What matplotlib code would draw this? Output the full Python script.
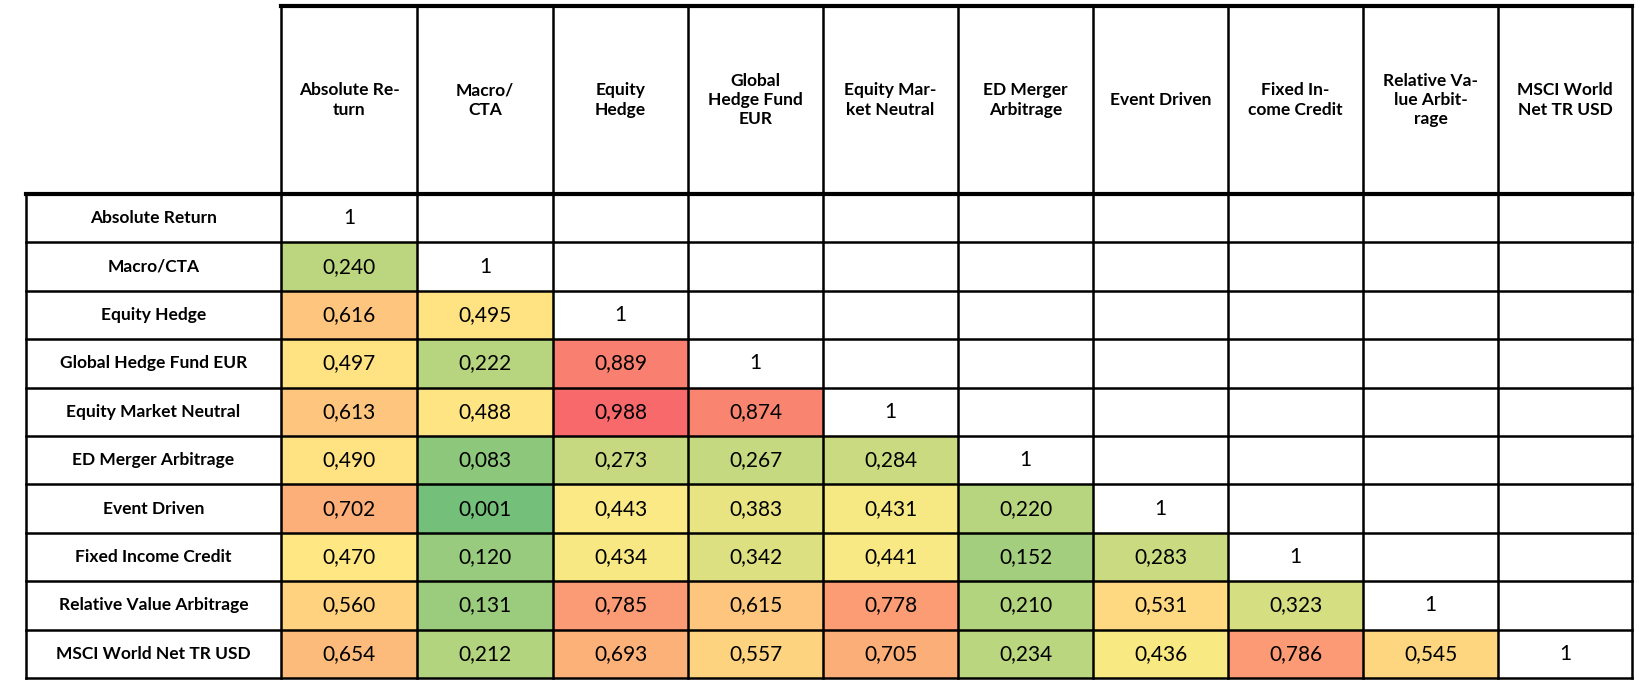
import matplotlib
matplotlib.use("Agg")
import matplotlib.pyplot as plt
from matplotlib.colors import LinearSegmentedColormap, TwoSlopeNorm

col_labels = ["Absolute Re-\nturn", "Macro/\nCTA", "Equity\nHedge", "Global\nHedge Fund\nEUR",
              "Equity Mar-\nket Neutral", "ED Merger\nArbitrage", "Event Driven", "Fixed In-\ncome Credit",
              "Relative Va-\nlue Arbit-\nrage", "MSCI World\nNet TR USD"]
row_labels = ["Absolute Return", "Macro/CTA", "Equity Hedge", "Global Hedge Fund EUR",
              "Equity Market Neutral", "ED Merger Arbitrage", "Event Driven", "Fixed Income Credit",
              "Relative Value Arbitrage", "MSCI World Net TR USD"]
corr = [
    [],
    [0.240],
    [0.616, 0.495],
    [0.497, 0.222, 0.889],
    [0.613, 0.488, 0.988, 0.874],
    [0.490, 0.083, 0.273, 0.267, 0.284],
    [0.702, 0.001, 0.443, 0.383, 0.431, 0.220],
    [0.470, 0.120, 0.434, 0.342, 0.441, 0.152, 0.283],
    [0.560, 0.131, 0.785, 0.615, 0.778, 0.210, 0.531, 0.323],
    [0.654, 0.212, 0.693, 0.557, 0.705, 0.234, 0.436, 0.786, 0.545],
]

cmap = LinearSegmentedColormap.from_list("gyr", ["#74C07A", "#FFEB84", "#F8696B"])
norm = TwoSlopeNorm(vmin=0.001, vcenter=0.46, vmax=0.988)

fig = plt.figure(figsize=(16.44, 6.91), dpi=100)
ax = fig.add_axes([0, 0, 1, 1])
ax.set_xlim(0, 1644)
ax.set_ylim(691, 0)
ax.axis("off")

xs = [281, 417, 553, 688, 823, 958, 1093, 1228, 1363, 1498, 1632]
x0 = 26
ytop, yh = 6, 194
rh = (678 - yh) / 10
font = "Lato"

for i, lab in enumerate(row_labels):
    y = yh + i * rh
    ax.text((x0 + xs[0]) / 2, y + rh / 2, lab, ha="center", va="center",
            fontsize=12.5, fontweight="bold", family=font)
    for j in range(10):
        if j < len(corr[i]):
            v = corr[i][j]
            ax.add_patch(plt.Rectangle((xs[j], y), xs[j + 1] - xs[j], rh,
                                       facecolor=cmap(norm(v)), edgecolor="none"))
            ax.text((xs[j] + xs[j + 1]) / 2, y + rh / 2, f"{v:.3f}".replace(".", ","),
                    ha="center", va="center", fontsize=15, family=font)
        elif j == i:
            ax.text((xs[j] + xs[j + 1]) / 2, y + rh / 2, "1",
                    ha="center", va="center", fontsize=15, family=font)

for j, lab in enumerate(col_labels):
    ax.text((xs[j] + xs[j + 1]) / 2, (ytop + yh) / 2, lab, ha="center", va="center",
            fontsize=12.5, fontweight="bold", family=font, linespacing=1.25)

lw = 1.8
for x in xs:
    ax.plot([x, x], [ytop, 678], color="black", lw=lw)
ax.plot([x0, x0], [yh, 678], color="black", lw=lw)
ax.plot([xs[0], xs[-1]], [ytop, ytop], color="black", lw=3)
ax.plot([x0, xs[-1]], [yh, yh], color="black", lw=3)
for i in range(1, 11):
    y = yh + i * rh
    ax.plot([x0, xs[-1]], [y, y], color="black", lw=lw)

fig.savefig("out.png", dpi=100)
